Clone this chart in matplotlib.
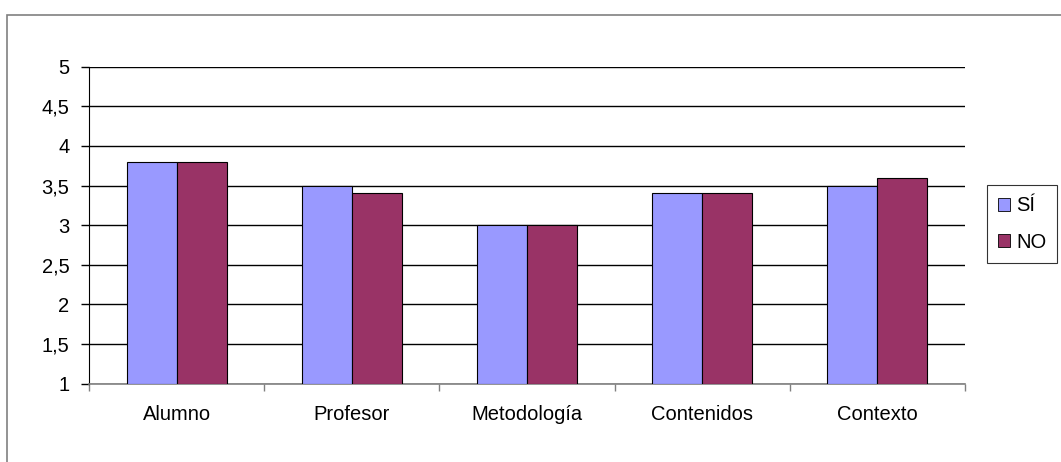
import matplotlib
matplotlib.use("Agg")
import matplotlib.pyplot as plt
from matplotlib.patches import Rectangle, Patch
import numpy as np

plt.rcParams['font.family'] = ['Liberation Sans', 'DejaVu Sans']

categories = ["Alumno", "Profesor", "Metodología", "Contenidos", "Contexto"]
si_values = [3.8, 3.5, 3.0, 3.4, 3.5]
no_values = [3.8, 3.4, 3.0, 3.4, 3.6]
series_labels = ["SÍ", "NO"]
y_ticks = [1, 1.5, 2, 2.5, 3, 3.5, 4, 4.5, 5]
y_tick_labels = ["1", "1,5", "2", "2,5", "3", "3,5", "4", "4,5", "5"]

W, H = 1061, 462
fig = plt.figure(figsize=(W / 100, H / 100), dpi=100)
fig.patch.set_facecolor("white")

# outer chart border (runs off the right and bottom edges)
fig.add_artist(Rectangle((7 / W, -0.05), 1.1, 1.05 - 15 / H, transform=fig.transFigure,
                         fill=False, edgecolor="#808080", linewidth=1.2))

ax = fig.add_axes([89 / W, (H - 383.7) / H, (965 - 89) / W, (383.7 - 66.7) / H])

x = np.arange(len(categories))
width = 1 / 3.5
ax.bar(x - width / 2, np.array(si_values) - 1, width, bottom=1, color="#9999FF",
       edgecolor="black", linewidth=0.8, zorder=3, label=series_labels[0])
ax.bar(x + width / 2, np.array(no_values) - 1, width, bottom=1, color="#993366",
       edgecolor="black", linewidth=0.8, zorder=3, label=series_labels[1])

ax.set_xlim(-0.5, len(categories) - 0.5)
ax.set_ylim(1, 5)
ax.set_yticks(y_ticks)
ax.set_yticklabels(y_tick_labels, fontsize=14.5)
ax.yaxis.grid(True, color="black", linewidth=1, zorder=0)
ax.set_axisbelow(True)

# category boundaries carry the tick marks, labels sit at the centers
ax.set_xticks(np.arange(-0.5, len(categories), 1.0))
ax.set_xticklabels([])
ax.set_xticks(x, minor=True)
ax.set_xticklabels(categories, minor=True, fontsize=14.5)
ax.tick_params(axis="x", which="major", direction="out", length=5, color="#808080", width=1)
ax.tick_params(axis="x", which="minor", length=0, pad=15)
ax.tick_params(axis="y", direction="out", length=6, color="black", width=1, pad=8)

for side in ["top", "right"]:
    ax.spines[side].set_visible(False)
ax.spines["left"].set_color("black")
ax.spines["bottom"].set_color("#808080")
ax.spines["bottom"].set_linewidth(1.2)

handles = [Patch(facecolor="#9999FF", edgecolor="black", linewidth=0.6),
           Patch(facecolor="#993366", edgecolor="black", linewidth=0.6)]
leg = fig.legend(handles, series_labels, loc="center left",
                 bbox_to_anchor=(986.7 / W, (H - 224) / H),
                 fontsize=14.5, frameon=True, fancybox=False,
                 edgecolor="black", handlelength=0.6, handleheight=0.6,
                 handletextpad=0.3, borderpad=0.55, labelspacing=0.85,
                 borderaxespad=0)
leg.get_frame().set_linewidth(0.8)

fig.savefig("out.png", dpi=100)
